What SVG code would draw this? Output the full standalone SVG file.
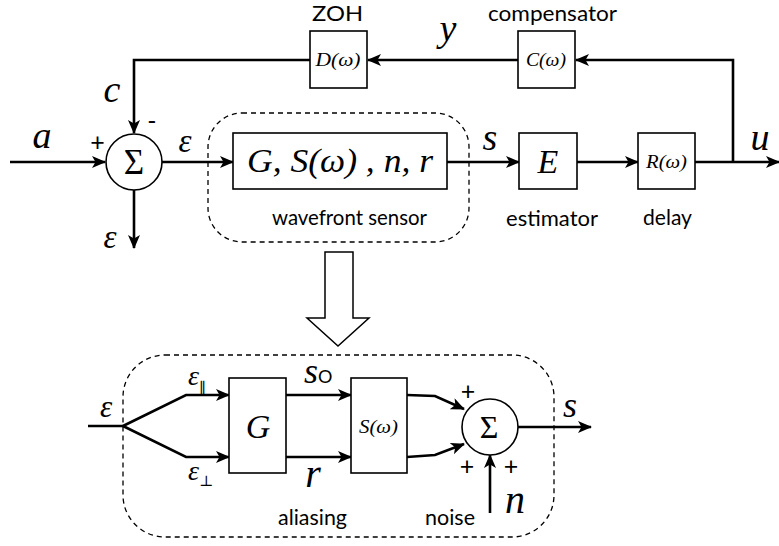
<svg xmlns="http://www.w3.org/2000/svg" width="779" height="546" viewBox="0 0 779 546">
<style>
.bg{fill:#fff}
.box{fill:#fff;stroke:#000;stroke-width:1.6}
.ln{fill:none;stroke:#000;stroke-width:2.6;stroke-linejoin:miter}
.arr{marker-end:url(#ah)}
.dash{fill:none;stroke:#000;stroke-width:1.3;stroke-dasharray:5,4}
.m{font-family:"Liberation Serif","DejaVu Serif",serif;font-style:italic;fill:#000}
.u{font-family:"Liberation Serif","DejaVu Serif",serif;fill:#000}
.t{font-family:"Lato","Open Sans","Liberation Sans",sans-serif;fill:#000;text-anchor:middle;font-size:21px}
.p{font-family:"Lato","Open Sans","Liberation Sans",sans-serif;fill:#000;text-anchor:middle;font-size:25px}
.c{text-anchor:middle}
</style>
<defs>
<marker id="ah" viewBox="0 0 14 12" refX="13" refY="6" markerWidth="14" markerHeight="12" markerUnits="userSpaceOnUse" orient="auto">
<path d="M0,0 L14,6 L0,12 L3.5,6 z" fill="#000"/>
</marker>
</defs>
<rect class="bg" x="0" y="0" width="779" height="546"/>

<g id="connectors">
<path class="ln arr" d="M10,162 H105"/>
<path class="ln arr" d="M310,60 H134 V133"/>
<path class="ln arr" d="M162,162 H233"/>
<path class="ln arr" d="M134,190 V248"/>
<path class="ln arr" d="M447,162 H519"/>
<path class="ln arr" d="M577,162 H638"/>
<path class="ln arr" d="M695,162 H779"/>
<path class="ln arr" d="M733,162 V60 H576"/>
<path class="ln arr" d="M518,60 H368"/>
<path class="ln" d="M88,426 H123"/>
<path class="ln arr" d="M123,426 L186,395 H229"/>
<path class="ln arr" d="M123,426 L186,457 H229"/>
<path class="ln arr" d="M286,395 H351"/>
<path class="ln arr" d="M286,457 H351"/>
<path class="ln arr" d="M407,395 L435,396 L464,409"/>
<path class="ln arr" d="M407,457 L435,455 L464,444"/>
<path class="ln arr" d="M518,427 H591"/>
<path class="ln arr" d="M490,513 V455"/>
</g>

<g id="wfs-group">
<rect class="dash" x="208" y="113" width="261" height="129" rx="34"/>
<text class="t" x="349.5" y="225" textLength="155" lengthAdjust="spacingAndGlyphs">wavefront sensor</text>
</g>

<g id="sum1">
<circle cx="134" cy="162" r="28" fill="#fff" stroke="#000" stroke-width="1.6"/>
<text class="u c" x="134" y="174" font-size="35">Σ</text>
<text class="p" x="97.5" y="151">+</text>
<text class="p" x="152" y="130">-</text>
</g>

<g id="zoh">
<rect class="box" x="310" y="31" width="57" height="57"/>
<text class="m c" x="338" y="66" font-size="18" textLength="45" lengthAdjust="spacingAndGlyphs">D(ω)</text>
<text class="t" x="337.5" y="21" font-size="17" textLength="51" lengthAdjust="spacingAndGlyphs">ZOH</text>
</g>

<g id="compensator">
<rect class="box" x="518" y="31" width="57" height="57"/>
<text class="m c" x="546" y="66" font-size="18" textLength="40" lengthAdjust="spacingAndGlyphs">C(ω)</text>
<text class="t" x="552.5" y="21" font-size="17" textLength="129" lengthAdjust="spacingAndGlyphs">compensator</text>
</g>

<g id="wfs">
<rect class="box" x="233" y="133" width="214" height="56"/>
<text class="m c" x="340" y="172" font-size="34" textLength="186" lengthAdjust="spacingAndGlyphs">G, S(ω) , n, r</text>
</g>

<g id="estimator">
<rect class="box" x="519" y="133" width="58" height="56"/>
<text class="m c" x="548" y="173" font-size="34">E</text>
<text class="t" x="552" y="226" textLength="92" lengthAdjust="spacingAndGlyphs">estimator</text>
</g>

<g id="delay">
<rect class="box" x="638" y="133" width="57" height="56"/>
<text class="m c" x="666.5" y="168" font-size="18" textLength="41" lengthAdjust="spacingAndGlyphs">R(ω)</text>
<text class="t" x="667.5" y="225" textLength="49" lengthAdjust="spacingAndGlyphs">delay</text>
</g>

<g id="labels-top">
<text class="m c" x="42" y="148" font-size="38">a</text>
<text class="m c" x="112" y="102" font-size="38">c</text>
<text class="m c" x="448" y="41" font-size="38">y</text>
<text class="m c" x="185" y="152" font-size="33">ε</text>
<text class="m c" x="110" y="248" font-size="33">ε</text>
<text class="m c" x="490" y="150" font-size="38">s</text>
<text class="m c" x="760" y="150" font-size="38">u</text>
</g>

<g id="expand-arrow">
<polygon points="325,252 353,252 353,318 369,318 338,346 307,318 325,318" fill="#fff" stroke="#000" stroke-width="1.5"/>
</g>

<g id="detail-group">
<rect class="dash" x="123" y="355" width="431" height="182" rx="42"/>
<text class="t" x="312.5" y="525" textLength="69" lengthAdjust="spacingAndGlyphs">aliasing</text>
<text class="t" x="450" y="525" textLength="50" lengthAdjust="spacingAndGlyphs">noise</text>
</g>

<g id="G">
<rect class="box" x="229" y="378" width="57" height="95"/>
<text class="m c" x="258" y="438" font-size="34">G</text>
</g>

<g id="S">
<rect class="box" x="351" y="378" width="56" height="95"/>
<text class="m c" x="378.5" y="433" font-size="18" textLength="39" lengthAdjust="spacingAndGlyphs">S(ω)</text>
</g>

<g id="sum2">
<circle cx="490" cy="427" r="28" fill="#fff" stroke="#000" stroke-width="1.6"/>
<text class="u c" x="489" y="438" font-size="32">Σ</text>
<text class="p" x="468" y="400">+</text>
<text class="p" x="467" y="475">+</text>
<text class="p" x="511" y="475">+</text>
</g>

<g id="labels-bottom">
<text class="m c" x="106" y="417" font-size="31">ε</text>
<text class="m" x="188" y="385" font-size="28">ε<tspan class="u" font-style="normal" font-size="15" dy="8">∥</tspan></text>
<text class="m" x="188" y="480" font-size="28">ε<tspan class="u" font-style="normal" font-size="15" dy="6">⊥</tspan></text>
<text class="m" x="304" y="383" font-size="36">s<tspan font-family="Lato,sans-serif" font-style="normal" font-size="18">O</tspan></text>
<text class="m c" x="313" y="487" font-size="40">r</text>
<text class="m c" x="570" y="417" font-size="36">s</text>
<text class="m c" x="515" y="513" font-size="40">n</text>
</g>
</svg>
